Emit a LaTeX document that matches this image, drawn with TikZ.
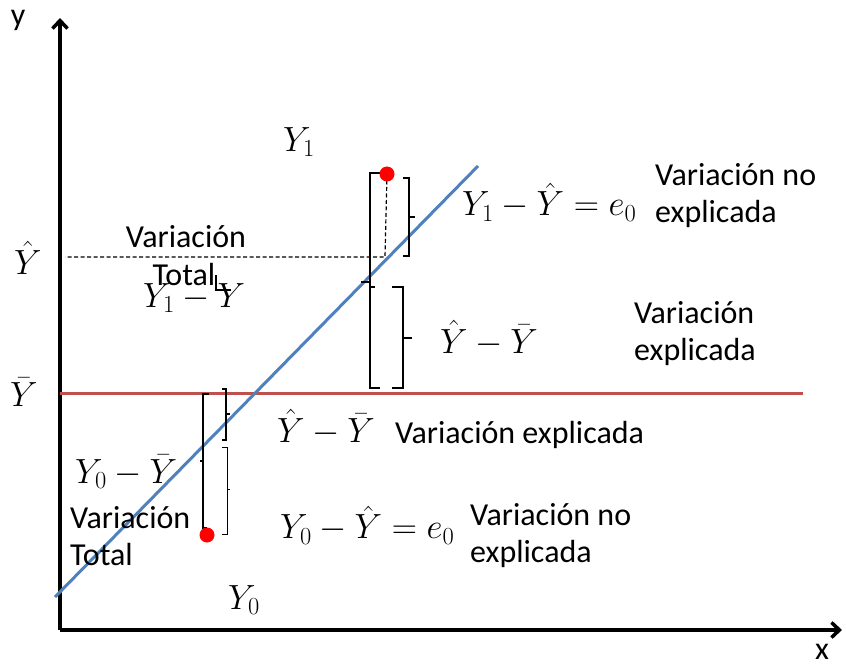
\documentclass[tikz,border=0pt]{standalone}
\usepackage{fix-cm}
\usepackage{fontspec}
\setmainfont{Carlito}
\usetikzlibrary{arrows.meta}
\definecolor{Blue}{HTML}{4f81bd}
\definecolor{Red}{HTML}{c0504d}
\definecolor{Dot}{HTML}{ff0000}

\tikzset{
  txt/.style={font=\fontsize{32}{37}\selectfont, inner sep=0pt},
  mth/.style={font=\fontsize{35}{37}\selectfont, inner sep=0pt, anchor=west},
  lbl/.style={txt, align=left, anchor=west},
  brk/.style={line width=1.4pt, line join=miter},
}

\begin{document}
\begin{tikzpicture}[x=1pt,y=-1pt,>={Straight Barb[length=8pt,width=15pt]}]
\useasboundingbox (0,0) rectangle (846,671);

\coordinate (o) at (60,630);
\coordinate (ytop) at (60,18);
\coordinate (xend) at (842,630);

\coordinate (r0) at (60,393);
\coordinate (r1) at (803,393);
\coordinate (b0) at (55,597);
\coordinate (b1) at (478,166);

\node (p1) at (387,174) {};
\node (p0) at (207,535) {};
\coordinate (h1) at (385,257);
\coordinate (h0) at (65,257);

% axes
\draw[->,line width=3.5pt] (o) -- (ytop);
\draw[->,line width=3.5pt] (o) -- (xend);

\draw[Red,line width=3pt] (r0) -- (r1);
\draw[Blue,line width=3pt] (b0) -- (b1);

\draw[line width=1.2pt,dash pattern=on 4pt off 2.5pt] (p1.center) -- (h1) -- (h0);

% brackets
\draw[brk] (380,173) -- (370,173) -- (370,388) -- (380,388);
\draw[brk] (361,282) -- (370,282);
\draw[brk] (370,287) -- (375,287);
\draw[brk] (403,178) -- (409,178) -- (409,256) -- (403,256);
\draw[brk] (409,217) -- (415,217);
\draw[brk] (392,287) -- (403,287) -- (403,388) -- (392,388);
\draw[brk] (403,338) -- (412,338);
\draw[brk] (216,275) -- (216,290) -- (231,290);

\draw[brk] (209,394) -- (203,394) -- (203,528) -- (207,528);
\draw[brk] (200,461) -- (203,461);
\draw[brk] (222,389) -- (226,389) -- (226,440) -- (222,440);
\draw[brk] (226,414) -- (230,414);
\draw[brk,line width=1pt] (222,447) -- (227,447) -- (227,534) -- (222,534);
\draw[brk,line width=1pt] (227,489) -- (230,489);

\fill[Dot] (p1) circle [radius=7.5];
\fill[Dot] (p0) circle [radius=7.5];

% labels
\node[txt] (ylab) at (18,20) {y};
\node[txt] (xlab) at (822,652) {x};
\node[mth] (yhat) at (14,258) {$\hat{Y}$};
\node[mth] (ybar) at (10,392) {$\bar{Y}$};
\node[mth] (y1) at (283,142) {$Y_1$};
\node[mth] (y0) at (228,600) {$Y_0$};

\node[txt] (vt1) at (186,237) {Variación};
\node[txt] (tt1) at (184,275) {Total};
\node[mth] (d1) at (143,298) {$Y_1 - Y$};

\node[mth] (e1) at (462,202) {$Y_1 - \hat{Y} = e_0$};
\node[lbl] (vn1) at (655,196) {Variación no\\explicada};
\node[mth] (f1) at (440,338) {$\hat{Y} - \bar{Y}$};
\node[lbl] (ve1) at (634,334) {Variación\\explicada};

\node[mth] (f0) at (277,427) {$\hat{Y} - \bar{Y}$};
\node[lbl] (ve0) at (395,435) {Variación explicada};
\node[mth] (d0) at (75,472) {$Y_0 - \bar{Y}$};
\node[lbl] (vt0) at (70,536) {Variación\\Total};
\node[mth] (e0) at (280,525) {$Y_0 - \hat{Y} = e_0$};
\node[lbl] (vn0) at (470,536) {Variación no\\explicada};

\end{tikzpicture}
\end{document}
